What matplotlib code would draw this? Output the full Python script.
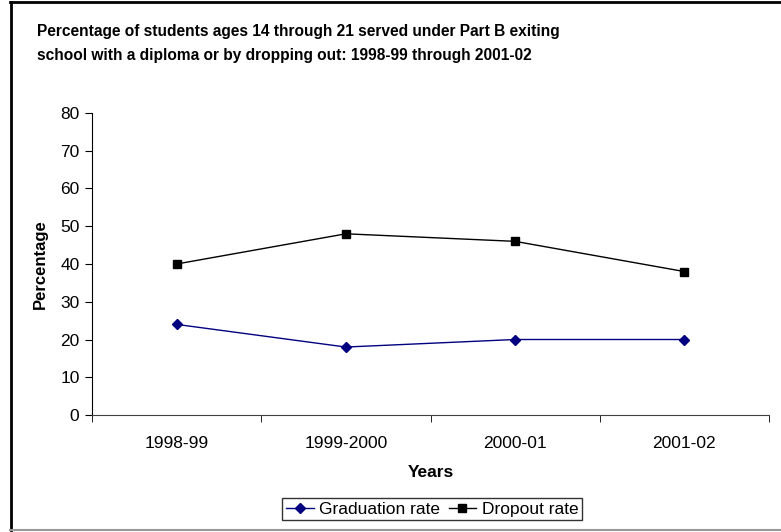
import matplotlib
matplotlib.use("Agg")
import matplotlib.pyplot as plt
from matplotlib.lines import Line2D

plt.rcParams['font.family'] = ['Liberation Sans', 'DejaVu Sans']

years = ['1998-99', '1999-2000', '2000-01', '2001-02']
graduation = [24, 18, 20, 20]
dropout = [40, 48, 46, 38]

W, H = 781, 532
fig = plt.figure(figsize=(W / 100, H / 100), dpi=100)
ax = fig.add_axes([92 / W, 1 - 415 / H, (769 - 92) / W, (415 - 113) / H])

x = range(len(years))
ax.plot(x, graduation, color='#000080', marker='D', markersize=5, linewidth=1,
        label='Graduation rate')
ax.plot(x, dropout, color='black', marker='s', markersize=6, linewidth=1,
        label='Dropout rate')

ax.set_xlim(-0.5, len(years) - 0.5)
ax.set_ylim(0, 80)
ax.set_yticks(range(0, 81, 10))
ax.set_xticks(list(x))
ax.set_xticklabels(years, fontsize=12.5)
ax.set_xticks([i - 0.5 for i in range(len(years) + 1)], minor=True)
ax.tick_params(axis='x', which='major', length=0, pad=15)
ax.tick_params(axis='x', which='minor', length=5, direction='out')
ax.tick_params(axis='y', length=5, direction='out', labelsize=12.5, pad=4)
for s in ['top', 'right']:
    ax.spines[s].set_visible(False)
ax.spines['bottom'].set_color('#404040')

ax.set_xlabel('Years', fontsize=12.5, fontweight='bold', labelpad=10)
ax.set_ylabel('Percentage', fontsize=12, fontweight='bold', labelpad=9)

fig.text(37 / W, 1 - 24 / H,
         'Percentage of students ages 14 through 21 served under Part B exiting\n'
         'school with a diploma or by dropping out: 1998-99 through 2001-02',
         fontsize=11.2, fontweight='bold', va='top', ha='left', linespacing=1.75)

leg = fig.legend(loc='center', bbox_to_anchor=(432 / W, 1 - 509 / H), ncol=2,
                 fontsize=12.5, frameon=True, fancybox=False, handlelength=1.6,
                 handletextpad=0.3, columnspacing=0.5, borderpad=0.2,
                 borderaxespad=0)
leg.get_frame().set_edgecolor('black')
leg.get_frame().set_linewidth(1)

# outer chart border
fig.add_artist(Line2D([10 / W, 1], [1 - 2 / H, 1 - 2 / H], color='black', linewidth=2))
fig.add_artist(Line2D([11 / W, 11 / W], [1 - 2 / H, 1 - 530 / H], color='black', linewidth=2))
fig.add_artist(Line2D([10 / W, 1], [1 - 530 / H, 1 - 530 / H], color='#999999', linewidth=1.5))

fig.savefig('out.png', dpi=100)
